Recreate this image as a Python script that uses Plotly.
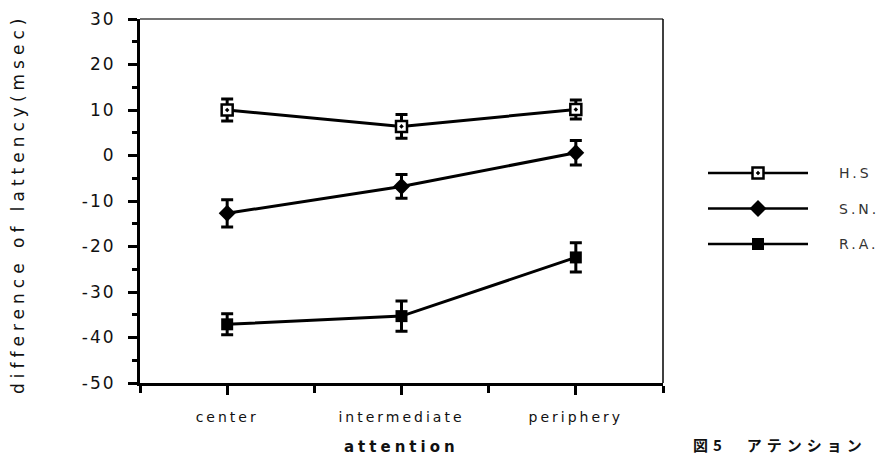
import plotly.graph_objects as go

# attention conditions on the x axis
categories = ["center", "intermediate", "periphery"]
cat_pos = [0, 1, 2]

# difference of latency (msec) per subject, with error bar half-lengths
series_names = ["H.S", "S.N.", "R.A."]
hs_values = [10.0, 6.4, 10.1]
hs_errors = [2.4, 2.6, 2.1]
sn_values = [-12.7, -6.8, 0.6]
sn_errors = [3.0, 2.6, 2.7]
ra_values = [-37.1, -35.3, -22.4]
ra_errors = [2.3, 3.3, 3.2]

y_ticks = [30, 20, 10, 0, -10, -20, -30, -40, -50]
y_tick_labels = ["30", "20", "10", "0", "-10", "-20", "-30", "-40", "-50"]

W, H = 881, 457
FONT = "DejaVu Sans"
INK = "#111111"


def spaced(text, px):
    return f'<span style="letter-spacing:{px}px">{text}</span>'


styles = [
    dict(symbol="square-dot", size=11, color="white", line=dict(color="black", width=2.5)),
    dict(symbol="diamond", size=13, color="black", line=dict(color="black", width=0)),
    dict(symbol="square", size=12, color="black", line=dict(color="black", width=0)),
]
values = [hs_values, sn_values, ra_values]
errors = [hs_errors, sn_errors, ra_errors]

fig = go.Figure()

for name, vals, errs, mk in zip(series_names, values, errors, styles):
    fig.add_trace(go.Scatter(
        x=cat_pos, y=vals, name=name, mode="lines+markers",
        line=dict(color="black", width=3),
        marker=mk,
        error_y=dict(type="data", array=errs, visible=True,
                     color="black", thickness=3, width=6),
        showlegend=False, xaxis="x", yaxis="y",
    ))

# hand-built key on its own little axis pair to the right of the plot
for row, (name, mk) in enumerate(zip(series_names, styles)):
    fig.add_trace(go.Scatter(
        x=[0, 1], y=[row, row], mode="lines",
        line=dict(color="black", width=2.5),
        showlegend=False, xaxis="x2", yaxis="y2", hoverinfo="skip",
    ))
    fig.add_trace(go.Scatter(
        x=[0.5], y=[row], mode="markers", marker=mk,
        showlegend=False, xaxis="x2", yaxis="y2", hoverinfo="skip",
    ))

x0, x1 = 140 / W, 663 / W
y0, y1 = (H - 383) / H, (H - 19) / H

fig.update_layout(
    width=W, height=H,
    margin=dict(l=0, r=0, t=0, b=0),
    paper_bgcolor="white", plot_bgcolor="white",
    font=dict(family=FONT, color=INK, size=14),
    xaxis=dict(
        domain=[x0, x1], range=[-0.5, 2.5],
        tickvals=cat_pos, ticktext=[spaced(c, 3) for c in categories],
        tickfont=dict(size=14, family=FONT, color=INK),
        showgrid=False, zeroline=False,
        showline=True, linecolor="black", linewidth=3,
        ticks="outside", ticklen=9, tickwidth=2.5, tickcolor="black",
        ticklabelstandoff=10,
        minor=dict(tick0=0.5, dtick=1, ticks="outside", ticklen=7,
                   tickwidth=2.5, tickcolor="black", showgrid=False),
        automargin=False, fixedrange=True,
    ),
    yaxis=dict(
        domain=[y0, y1], range=[-50, 30],
        tickvals=y_ticks, ticktext=[spaced(t, 2) for t in y_tick_labels],
        tickfont=dict(size=17, family=FONT, color=INK),
        showgrid=False, zeroline=False,
        showline=True, linecolor="black", linewidth=3,
        ticks="outside", ticklen=9, tickwidth=2.5, tickcolor="black",
        ticklabelstandoff=9,
        minor=dict(dtick=5, ticks="outside", ticklen=5,
                   tickwidth=2.5, tickcolor="black", showgrid=False),
        automargin=False, fixedrange=True,
    ),
    xaxis2=dict(domain=[708 / W, 808 / W], range=[0, 1], visible=False,
                anchor="y2", fixedrange=True),
    yaxis2=dict(domain=[(H - 261.75) / H, (H - 155.25) / H], range=[2.5, -0.5],
                visible=False, anchor="x2", fixedrange=True),
    shapes=[
        dict(type="line", xref="paper", yref="paper", x0=x0, x1=x1, y0=y1, y1=y1,
             line=dict(color="#444444", width=1.5)),
        dict(type="line", xref="paper", yref="paper", x0=x1, x1=x1, y0=y0, y1=y1,
             line=dict(color="black", width=1.5)),
    ],
)

annotations = [
    dict(text=spaced("difference of lattency(msec)", 5), x=18 / W, y=1 - 204 / H,
         xref="paper", yref="paper", textangle=-90, showarrow=False,
         font=dict(size=17, family=FONT, color=INK), xanchor="center", yanchor="middle"),
    dict(text=spaced("<b>attention</b>", 4), x=401 / W, y=1 - 447 / H,
         xref="paper", yref="paper", showarrow=False,
         font=dict(size=15, family=FONT, color=INK), xanchor="center", yanchor="middle"),
    dict(text=spaced("<b>図5　アテンション</b>", 5), x=691 / W, y=1 - 444 / H,
         xref="paper", yref="paper", showarrow=False,
         font=dict(size=15, family="Noto Sans CJK JP", color=INK),
         xanchor="left", yanchor="middle"),
]
for row, name in enumerate(series_names):
    annotations.append(dict(
        text=spaced(name, 3), x=837 / W, y=row, xref="paper", yref="y2",
        showarrow=False, xanchor="left", yanchor="middle",
        font=dict(size=14, family=FONT, color="#333333"),
    ))
fig.update_layout(annotations=annotations)

fig.write_html("out.html")
